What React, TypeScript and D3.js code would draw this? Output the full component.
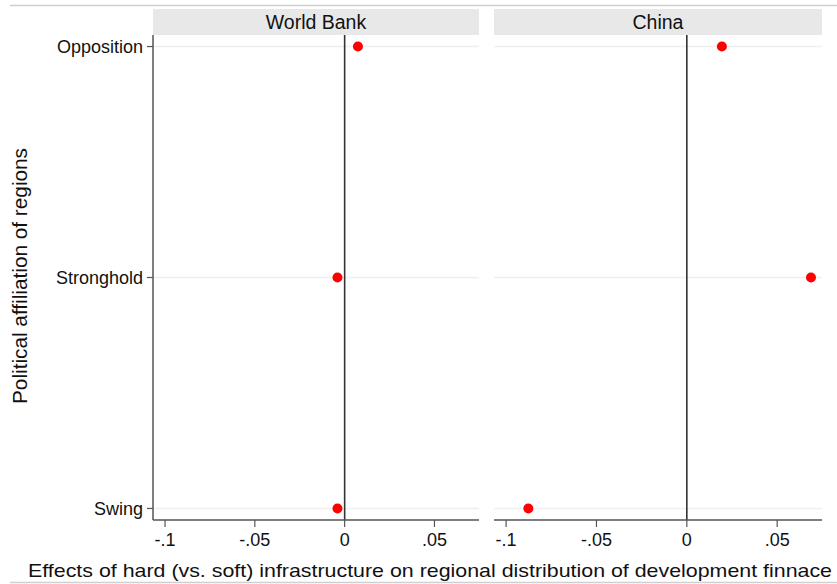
import React from "react";
import * as d3 from "d3";

const panels = ["World Bank", "China"];
const categories = ["Opposition", "Stronghold", "Swing"];
const worldBankValues = [0.0074, -0.004, -0.004];
const chinaValues = [0.0194, 0.0687, -0.0877];
const xTicks = [-0.1, -0.05, 0, 0.05];
const xTickLabels = ["-.1", "-.05", "0", ".05"];
const xTitle = "Effects of hard (vs. soft) infrastructure on regional distribution of development finnace";
const yTitle = "Political affiliation of regions";

const W = 837;
const H = 584;
const FONT = "'Liberation Sans', Arial, Helvetica, sans-serif";
const plotTop = 35;
const plotBottom = 520;
const headerTop = 9;
const panelRanges: [number, number][] = [
  [153, 479],
  [494, 822],
];
const xDomain: [number, number] = [-0.1067, 0.0748];

export default function App() {
  const y = d3.scaleLinear().domain([0.95, 3.05]).range([plotTop, plotBottom]);
  const seriesValues = [worldBankValues, chinaValues];

  return (
    <svg
      width={W}
      height={H}
      style={{ position: "fixed", left: 0, top: 0, background: "#fff" }}
      fontFamily={FONT}
    >
      <rect x={0} y={0} width={W} height={H} fill="#fff" />
      <line x1={10} x2={W} y1={5.5} y2={5.5} stroke="#cfcfcf" strokeWidth={1.5} />
      <line x1={10} x2={W} y1={582.5} y2={582.5} stroke="#cfcfcf" strokeWidth={1.5} />

      {panels.map((name, pi) => {
        const [x0, x1] = panelRanges[pi];
        const x = d3.scaleLinear().domain(xDomain).range([x0, x1]);
        const vals = seriesValues[pi];
        return (
          <g key={name}>
            <rect x={x0} y={headerTop} width={x1 - x0} height={plotTop - headerTop} fill="#e8e8e8" />
            <text x={(x0 + x1) / 2} y={28.5} textAnchor="middle" fontSize={19.5} fill="#111">
              {name}
            </text>
            {categories.map((c, i) => (
              <line
                key={c}
                x1={x0}
                x2={x1}
                y1={y(i + 1)}
                y2={y(i + 1)}
                stroke="#efefef"
                strokeWidth={1.5}
              />
            ))}
            <line x1={x(0)} x2={x(0)} y1={plotTop} y2={plotBottom} stroke="#333" strokeWidth={1.6} />
            <line x1={x0} x2={x1} y1={plotBottom} y2={plotBottom} stroke="#555" strokeWidth={1.5} />
            {xTicks.map((t, i) => (
              <g key={t}>
                <line x1={x(t)} x2={x(t)} y1={plotBottom} y2={plotBottom + 7} stroke="#555" strokeWidth={1.2} />
                <text x={x(t)} y={546} textAnchor="middle" fontSize={18} fill="#111">
                  {xTickLabels[i]}
                </text>
              </g>
            ))}
            {vals.map((v, i) => (
              <circle key={i} cx={x(v)} cy={y(i + 1)} r={5} fill="#ff0000" />
            ))}
          </g>
        );
      })}

      <line x1={153} x2={153} y1={plotTop} y2={plotBottom} stroke="#555" strokeWidth={1.5} />
      {categories.map((c, i) => (
        <g key={c}>
          <line x1={147} x2={153} y1={y(i + 1)} y2={y(i + 1)} stroke="#555" strokeWidth={1.2} />
          <text x={143} y={y(i + 1)} dy="0.35em" textAnchor="end" fontSize={18} fill="#111">
            {c}
          </text>
        </g>
      ))}

      <text
        transform={`translate(27, 276) rotate(-90)`}
        textAnchor="middle"
        fontSize={20}
        fill="#111"
        textLength={256}
        lengthAdjust="spacingAndGlyphs"
      >
        {yTitle}
      </text>
      <text
        x={430}
        y={577}
        textAnchor="middle"
        fontSize={19}
        fill="#111"
        textLength={804}
        lengthAdjust="spacingAndGlyphs"
      >
        {xTitle}
      </text>
    </svg>
  );
}
